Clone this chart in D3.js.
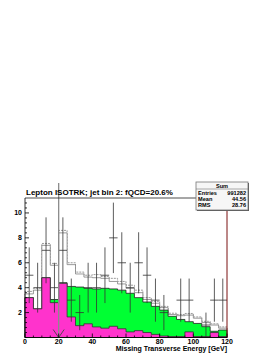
<!DOCTYPE html>
<html><head><meta charset="utf-8">
<script src="https://cdn.jsdelivr.net/npm/d3@7"></script>
<style>body{margin:0;background:#fff}svg{display:block}text{font-family:"Liberation Sans",Arial,sans-serif;font-weight:bold;fill:#000}</style>
</head><body>
<script>
// ---- data ----
const binLow = [0,5,10,15,20,25,30,35,40,45,50,55,60,65,70,75,80,85,90,95,100,105,110,115];
const binWidth = 5;
const qcd   = [3.2,2.3,4.8,2.8,4.35,1.65,0.95,1.1,0.85,0.75,0.9,0.7,0.45,0.55,0.4,0.25,0.12,0.08,0.08,0.45,0.08,0.08,0.4,0.08];
const ewk   = [0,0,0,0.25,0.05,2.45,3.1,2.85,3.05,3.2,3.0,3.1,3.1,2.65,2.45,2.25,2.08,1.62,1.37,0.82,1.05,0.79,0.1,0.52];
const other = [0.3,1.5,2.6,2.75,4.0,1.75,1.05,0.9,0.9,0.8,0.6,0.5,0.4,0.4,0.2,0.25,0.2,0.15,0.3,0.53,0.42,0.33,0.5,0.15];
const dashedTotal = [3.7,3.95,7.55,5.95,8.6,6.0,5.25,5.0,5.05,4.9,4.75,4.5,4.2,3.8,3.2,2.9,2.5,1.95,1.85,1.93,1.65,1.3,1.1,0.85];
const dataCounts = [5,4,7,4,7,3,2,4,4,5,8,6,4,6,5,3,2,0,3,3,0,1,3,3];
const yTicks = [2,4,6,8,10];
const xTicks = [0,20,40,60,80,100,120];
const cutValue = 20;
const rightLine = 120;
const titleText = "Lepton ISOTRK; jet bin 2: fQCD=20.6%";
const xTitle = "Missing Transverse Energy [GeV]";
const statsTitle = "Sum";
const statsRows = [["Entries","991282"],["Mean","44.56"],["RMS","28.76"]];

// ---- layout ----
const W = 273, H = 353;
const svg = d3.select("body").append("svg").attr("width", W).attr("height", H);
svg.append("rect").attr("width", W).attr("height", H).attr("fill", "#fff");

const x = d3.scaleLinear().domain([0,120]).range([25,227]);
const y = d3.scaleLinear().domain([0,11.2]).range([337.5,198]);

const table = binLow.map((b,i) => ({low:b, qcd:qcd[i], ewk:ewk[i], other:other[i]}));
const stack = d3.stack().keys(["qcd","ewk","other"])(table);

function stepPoints(vals) {
  const pts = [];
  binLow.forEach((b,i) => { pts.push([b, vals[i]]); pts.push([b+binWidth, vals[i]]); });
  return pts;
}
const area = d3.area().x(d => x(d[0])).y0(y(0)).y1(d => y(d[1]));
const line = d3.line().x(d => x(d[0])).y(d => y(d[1]));

const g = svg.append("g");
// dashed total
g.append("path").attr("d", line([[0,0], ...stepPoints(dashedTotal), [120,0]]))
  .attr("fill","none").attr("stroke","#9a9a9a").attr("stroke-width",1).attr("stroke-dasharray","2,1");
// stacked layers (draw cumulative top first)
const fills = {other:"#ffffff", ewk:"#00ff33", qcd:"#ff33cc"};
const strokes = {other:"#808080", ewk:"#222", qcd:"#333"};
[...stack].reverse().forEach(layer => {
  const tops = layer.map(d => d[1]);
  g.append("path").attr("d", area(stepPoints(tops)))
    .attr("fill", fills[layer.key]).attr("stroke", strokes[layer.key]).attr("stroke-width", 0.8);
});

// data points with errors
const dg = svg.append("g").attr("stroke","#333").attr("stroke-width",0.8);
dataCounts.forEach((n,i) => {
  if (n <= 0) return;
  const cx = x(binLow[i] + binWidth/2);
  const e = Math.sqrt(n);
  dg.append("line").attr("x1",cx).attr("x2",cx).attr("y1",y(Math.min(n+e,11.2))).attr("y2",y(Math.max(n-e,0)));
  dg.append("line").attr("x1",x(binLow[i])).attr("x2",x(binLow[i]+binWidth)).attr("y1",y(n)).attr("y2",y(n));
});

// cut line with arrow
const cx0 = x(cutValue);
svg.append("line").attr("x1",cx0).attr("x2",cx0).attr("y1",183).attr("y2",y(0))
  .attr("stroke","#8c8c8c").attr("stroke-width",1.3);
svg.append("path").attr("d",`M${cx0-5.5},${y(0)-8}L${cx0},${y(0)}L${cx0+5.5},${y(0)-8}`)
  .attr("fill","none").attr("stroke","#444").attr("stroke-width",0.9);

// right dark red line
svg.append("line").attr("x1",x(rightLine)).attr("x2",x(rightLine)).attr("y1",y(11.2)).attr("y2",y(0))
  .attr("stroke","#7a1010").attr("stroke-width",1);

// frame / axes
const ax = svg.append("g").attr("stroke","#000").attr("stroke-width",0.8);
ax.append("line").attr("x1",x(0)).attr("x2",x(120)).attr("y1",y(11.2)).attr("y2",y(11.2)).attr("stroke","#222");
ax.append("line").attr("x1",x(0)).attr("x2",x(0)).attr("y1",y(11.2)).attr("y2",y(0));
ax.append("line").attr("x1",x(0)).attr("x2",x(120)).attr("y1",y(0)).attr("y2",y(0));

// y ticks
d3.range(0, 11.2, 0.4).forEach(v => {
  const major = yTicks.includes(Math.round(v*10)/10);
  ax.append("line").attr("x1",x(0)).attr("x2",x(0)+(major?4:2)).attr("y1",y(v)).attr("y2",y(v));
});
yTicks.forEach(v => {
  svg.append("text").attr("x",22).attr("y",y(v)+2.5).attr("text-anchor","end")
    .attr("font-size",7).text(v);
});
// x ticks
d3.range(0, 121, 5).forEach(v => {
  const major = xTicks.includes(v);
  ax.append("line").attr("x1",x(v)).attr("x2",x(v)).attr("y1",y(0)).attr("y2",y(0)-(major?4:2));
});
xTicks.forEach(v => {
  svg.append("text").attr("x",x(v)).attr("y",344).attr("text-anchor","middle")
    .attr("font-size",7).text(v);
});
svg.append("text").attr("x",x(120)).attr("y",351).attr("text-anchor","end")
  .attr("font-size",7).text(xTitle);

// title
svg.append("text").attr("x",26).attr("y",195).attr("font-size",8).text(titleText);

// stats box
const bx = 196, by = 182, bw = 52, bh = 28;
svg.append("rect").attr("x",bx+1).attr("y",by+1).attr("width",bw).attr("height",bh).attr("fill","#555");
svg.append("rect").attr("x",bx).attr("y",by).attr("width",bw).attr("height",bh)
  .attr("fill","#f6f6f6").attr("stroke","#777").attr("stroke-width",0.8);
svg.append("line").attr("x1",bx).attr("x2",bx+bw).attr("y1",by+7).attr("y2",by+7).attr("stroke","#777").attr("stroke-width",0.6);
svg.append("text").attr("x",bx+bw/2).attr("y",by+5.8).attr("text-anchor","middle").attr("font-size",5.6).attr("font-weight","normal").text(statsTitle);
statsRows.forEach((r,i) => {
  const yy = by + 12.8 + i*6.2;
  svg.append("text").attr("x",bx+2).attr("y",yy).attr("font-size",5.6).text(r[0]);
  svg.append("text").attr("x",bx+bw-2).attr("y",yy).attr("text-anchor","end").attr("font-size",5.6).text(r[1]);
});
</script>
</body></html>
